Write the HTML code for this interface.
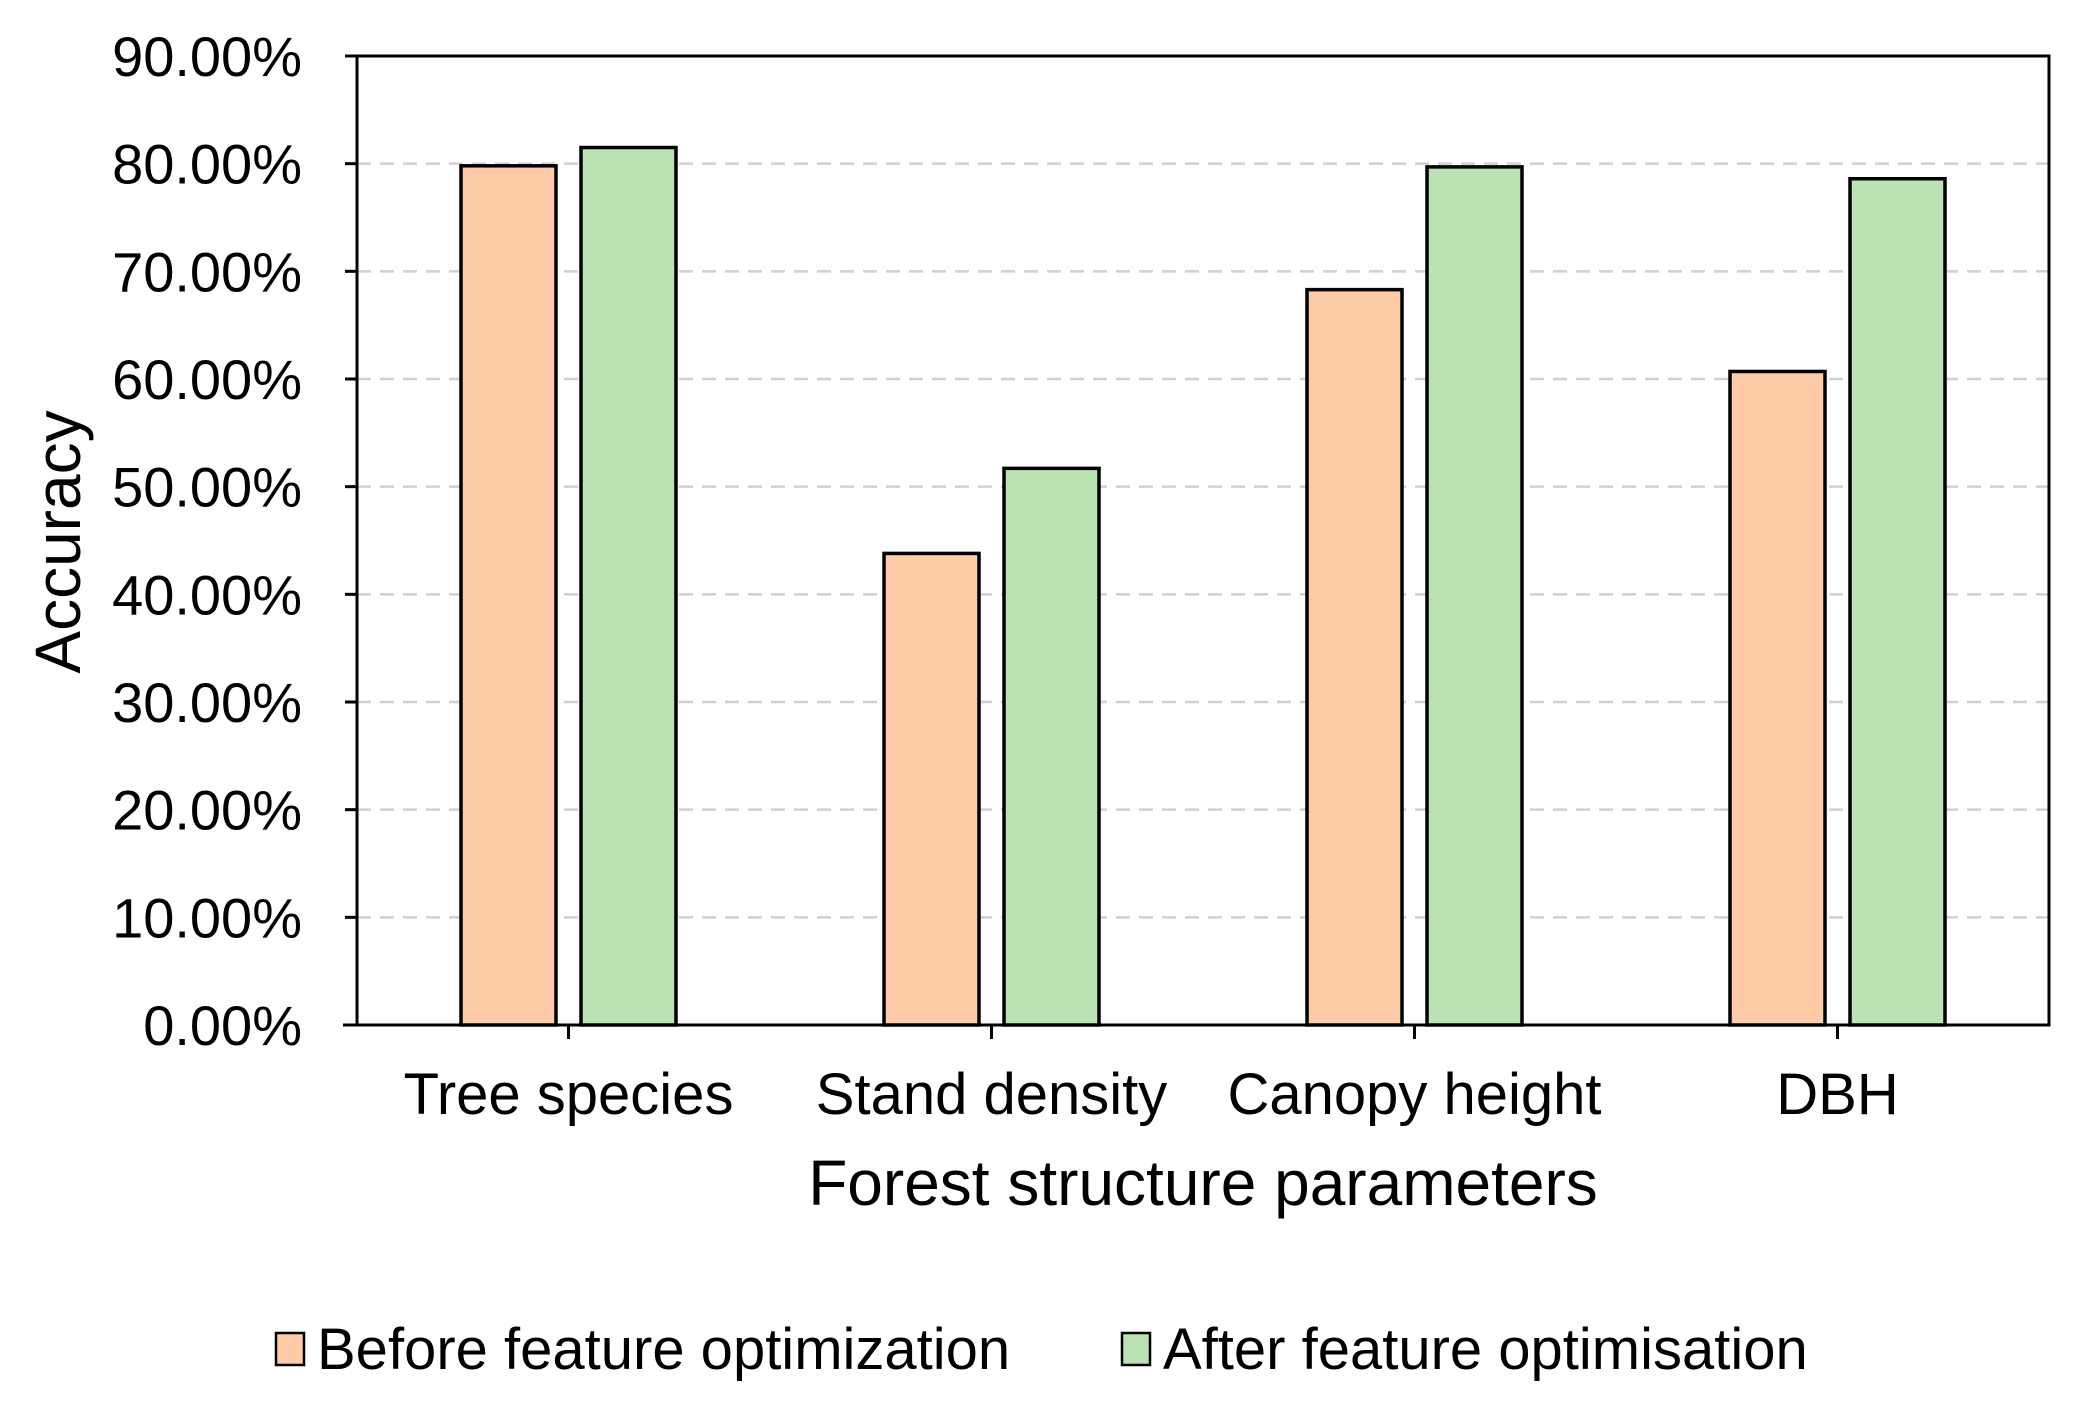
<!DOCTYPE html>
<html><head><meta charset="utf-8"><style>
html,body{margin:0;padding:0;background:#fff;}
svg text{font-family:"Liberation Sans",Arial,sans-serif;fill:#000;}
</style></head><body>
<svg id="chart" width="2073" height="1417" viewBox="0 0 2073 1417" xmlns="http://www.w3.org/2000/svg"></svg>
<script>
const categories = ["Tree species","Stand density","Canopy height","DBH"];
const beforeValues = [79.8, 43.8, 68.3, 60.7];
const afterValues = [81.5, 51.7, 79.7, 78.6];
const yTicks = [0,10,20,30,40,50,60,70,80,90];
const yTickLabels = ["0.00%","10.00%","20.00%","30.00%","40.00%","50.00%","60.00%","70.00%","80.00%","90.00%"];

const svg = document.getElementById('chart');
const NS = 'http://www.w3.org/2000/svg';
const L = 357, R = 2049, T = 56, B = 1025;
const yMax = 90;
function y(v){ return B - (v / yMax) * (B - T); }
const groupW = (R - L) / categories.length;
function xc(i){ return L + groupW * (i + 0.5); }
function mk(tag, attrs){ const e = document.createElementNS(NS, tag); for (const k in attrs) e.setAttribute(k, attrs[k]); svg.appendChild(e); return e; }

yTicks.forEach((v, i) => {
  if (v > 0 && v < yMax) {
    const g = mk('line', {x1:L, x2:R, y1:y(v), y2:y(v), stroke:'#d0d0d0', 'stroke-width':2.5, 'stroke-dasharray':'14 9'});
    
    
  }
  const tk = mk('line', {x1:L-12, x2:L, y1:y(v), y2:y(v), stroke:'#000', 'stroke-width':3});
  
  
  const t = mk('text', {x:302, y:y(v)+20, 'text-anchor':'end', 'font-size':56});
  t.textContent = yTickLabels[i];
  
  
});

const bw = 95;
categories.forEach((c, i) => {
  const b1 = mk('rect', {x:xc(i)-60-bw/2, y:y(beforeValues[i]), width:bw, height:B-y(beforeValues[i]), fill:'#fdcba8', stroke:'#000', 'stroke-width':3.5});
  
  
  const b2 = mk('rect', {x:xc(i)+60-bw/2, y:y(afterValues[i]), width:bw, height:B-y(afterValues[i]), fill:'#bbe2b3', stroke:'#000', 'stroke-width':3.5});
  
  
  const tk = mk('line', {x1:xc(i), x2:xc(i), y1:B, y2:B+14, stroke:'#000', 'stroke-width':3});
  
  
  const t = mk('text', {x:xc(i), y:1114, 'text-anchor':'middle', 'font-size':58});
  t.textContent = c;
  
  
});

const fr = mk('path', {d:`M${L-14},${B} L${R},${B} L${R},${T} L${L},${T} L${L},${B}`, fill:'none', stroke:'#000', 'stroke-width':3});



const xt = mk('text', {x:1203, y:1205, 'text-anchor':'middle', 'font-size':64});
xt.textContent = 'Forest structure parameters';


const yt = mk('text', {x:0, y:0, 'text-anchor':'middle', 'font-size':64, transform:'translate(80,542) rotate(-90)'});
yt.textContent = 'Accuracy';



const lb1 = mk('rect', {x:276, y:1333, width:28, height:32, fill:'#fdcba8', stroke:'#000', 'stroke-width':2.5});


const lt1 = mk('text', {x:317, y:1369, 'font-size':58});
lt1.textContent = 'Before feature optimization';


const lb2 = mk('rect', {x:1122, y:1333, width:28, height:32, fill:'#bbe2b3', stroke:'#000', 'stroke-width':2.5});


const lt2 = mk('text', {x:1163, y:1369, 'font-size':58});
lt2.textContent = 'After feature optimisation';


</script>
</body></html>
